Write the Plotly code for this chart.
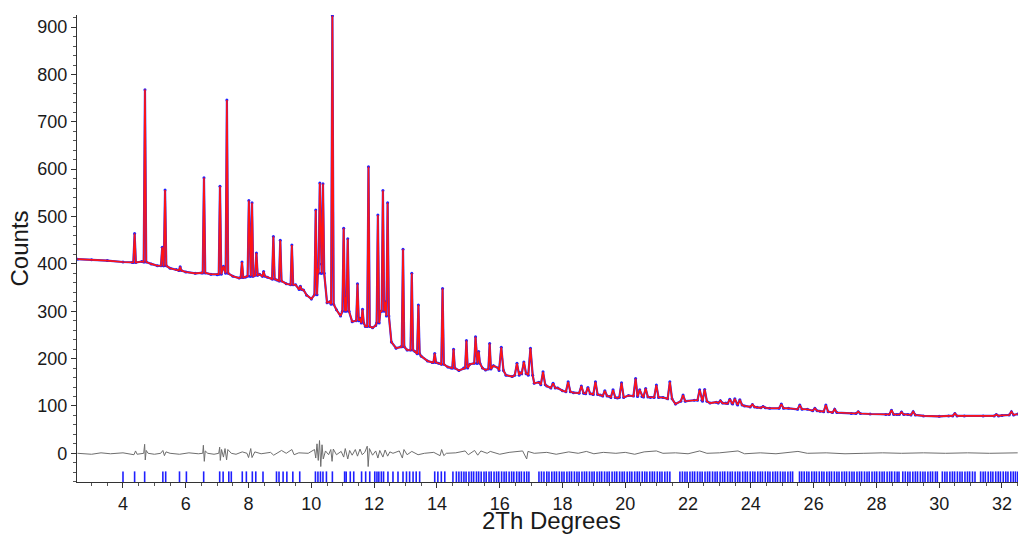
import plotly.graph_objects as go

# ---------------- data ----------------
# background knots (2Theta, counts)
bg_x = [2.55, 3.0, 3.5, 4.0, 4.3, 4.6, 4.9, 5.1, 5.5, 5.7, 6.0, 6.3, 6.5, 6.8, 7.0, 7.2,
        7.5, 7.7, 7.9, 8.35, 8.6, 8.9, 9.2, 9.5, 9.75, 9.85, 10.0, 10.21, 10.32, 10.5,
        10.58, 10.8, 10.93, 11.1, 11.3, 11.55, 11.72, 11.95, 12.05, 12.2, 12.36, 12.55,
        12.7, 12.85, 13.05, 13.3, 13.5, 13.7, 13.85, 14.05, 14.35, 14.45, 14.7, 14.85,
        15.05, 15.28, 15.45, 15.55, 15.8, 15.95, 16.2, 16.4, 16.65, 16.88, 17.1, 17.25,
        17.5, 17.85, 18.0, 18.35, 18.7, 18.95, 19.2, 19.5, 19.75, 20.1, 20.55, 20.8,
        21.2, 21.6, 21.9, 22.2, 22.7, 22.9, 23.2, 23.8, 24.2, 24.6, 25.2, 25.8, 26.2,
        26.7, 27.2, 27.8, 28.3, 28.65, 29.0, 29.5, 30.0, 30.3, 30.8, 31.4, 32.0, 32.5]
bg_y = [410, 409, 407, 404, 403, 405, 400, 396, 391, 388, 383, 380, 381, 378, 377, 395,
        374, 370, 372, 378, 372, 366, 358, 356, 345, 334, 326, 390, 400, 318,
        320, 303, 290, 330, 278, 285, 268, 265, 270, 300, 320, 235,
        222, 225, 218, 215, 205, 195, 192, 190, 182, 180, 175, 180,
        188, 205, 180, 176, 185, 180, 165, 162, 170, 168, 148, 150,
        142, 138, 132, 128, 127, 125, 123, 120, 117, 122, 120, 118,
        118, 104, 112, 112, 106, 108, 106, 100, 97, 95, 95, 93, 89,
        86, 84, 83, 82, 82, 82, 79, 78, 79, 79, 79, 80, 83]

# peaks: position, top, foot level
pk_x = [4.37, 4.70, 5.25, 5.34, 5.82, 6.58, 7.09, 7.31, 7.79, 8.01, 8.11, 8.25, 8.48,
        8.79, 9.01, 9.38, 9.65, 10.14, 10.27, 10.37, 10.67, 11.03, 11.16, 11.47, 11.63,
        11.82, 12.12, 12.28, 12.43, 12.92, 13.20, 13.41, 13.93, 14.18, 14.53, 14.94,
        15.23, 15.33, 15.68, 16.05, 16.55, 16.77, 16.98, 17.38, 17.70, 18.18, 18.60,
        18.81, 19.05, 19.35, 19.61, 19.88, 20.33, 20.46, 20.65, 20.99, 21.42, 21.84,
        22.37, 22.53, 23.03, 23.33, 23.49, 23.65, 24.05, 24.39, 24.97, 25.56, 26.04,
        26.39, 26.67, 27.42, 28.48, 28.80, 29.17, 30.50, 31.82, 32.30]
pk_top = [464, 768, 435, 556, 394, 582, 564, 746, 404, 534, 529, 423, 384,
          458, 450, 440, 353, 514, 571, 569, 924, 475, 453, 358, 304,
          605, 503, 555, 529, 431, 380, 313, 211, 348, 220, 238,
          246, 215, 232, 224, 190, 193, 222, 172, 148, 151, 142,
          139, 151, 132, 134, 149, 158, 134, 137, 144, 151, 123,
          134, 135, 111, 114, 115, 113, 103, 99, 104, 102, 95,
          102, 93, 88, 91, 87, 88, 84, 82, 88]
pk_base = [403, 404, 396, 396, 386, 381, 378, 380, 371, 374, 374, 376, 374,
           368, 364, 356, 346, 335, 380, 380, 315, 300, 300, 280, 275,
           268, 275, 300, 290, 225, 218, 210, 192, 188, 180, 180,
           190, 190, 178, 175, 165, 168, 165, 145, 138, 130, 127,
           126, 124, 121, 118, 118, 121, 120, 119, 118, 115, 110,
           112, 110, 106, 105, 104, 102, 98, 96, 95, 93, 90,
           88, 86, 84, 82, 82, 81, 79, 79, 81]

# difference curve (obs - calc)
diff_x = [2.55, 3.0, 3.3, 3.6, 4.0, 4.35, 4.4, 4.45, 4.66, 4.69, 4.71, 4.74, 4.8, 5.0, 5.2,
          5.27, 5.32, 5.37, 5.5, 5.8, 6.1, 6.4, 6.54, 6.56, 6.59, 6.62, 6.7, 6.9, 7.05,
          7.08, 7.1, 7.14, 7.2, 7.25, 7.3, 7.34, 7.45, 7.6, 7.8, 7.95, 8.0, 8.07, 8.11,
          8.2, 8.4, 8.7, 8.8, 8.9, 9.05, 9.2, 9.38, 9.45, 9.6, 9.9, 10.1, 10.14, 10.18,
          10.22, 10.26, 10.3, 10.34, 10.38, 10.45, 10.55, 10.62, 10.66, 10.7, 10.8, 10.95,
          11.03, 11.08, 11.16, 11.22, 11.3, 11.4, 11.47, 11.55, 11.62, 11.7, 11.78, 11.81,
          11.85, 11.95, 12.05, 12.12, 12.18, 12.28, 12.35, 12.43, 12.5, 12.6, 12.8, 12.9,
          12.95, 13.05, 13.2, 13.4, 13.6, 13.9, 14.1, 14.15, 14.22, 14.3, 14.6, 14.9, 15.0,
          15.2, 15.3, 15.4, 15.6, 15.7, 16.0, 16.3, 16.73, 16.8, 16.86, 16.9, 17.1, 17.5,
          17.8, 18.2, 18.5, 18.76, 19.0, 19.3, 19.7, 20.0, 20.3, 20.6, 20.99, 21.2, 21.6,
          22.0, 22.37, 22.6, 23.0, 23.59, 23.8, 24.3, 24.8, 25.5, 25.8, 26.4, 27.0, 27.6,
          28.2, 28.8, 29.5, 30.2, 30.9, 31.6, 32.5]
diff_y = [0, -2, 1, -1, 1, -3, 5, -2, 0, 19, -14, 6, 0, -2, 0,
          6, -5, 3, 0, -2, 1, -1, 0, 17, -17, 5, 0, -2, 0,
          13, -15, 8, -8, 10, -14, 8, 0, -2, 3, 0, -9, 10, -9,
          3, -1, 2, -4, 0, 6, 0, 8, -3, 1, 0, 8, -10, 20,
          -15, 27, -28, 18, -12, 5, -3, 8, -17, 9, -3, 4,
          -8, 10, -12, 6, -4, 8, -6, 9, -3, 2, 15, -28,
          10, -4, 5, -10, 6, -8, 7, -6, 3, 0, 5, -10,
          8, -3, 4, -3, 0, 2, -5, 8, -5, 0, 1, 5, -3,
          6, -4, 5, 0, 4, -2, 2, 5, -3, -12, 4, 0, 2,
          -2, 3, 0, 4, -1, 2, 0, 2, -2, 3, 5, 0, 1,
          -1, 5, 0, 1, 5, -1, 1, -1, 4, 0, 1, -1, 0,
          1, 0, 1, 0, 1, 0, 1]

# reflection (hkl) tick positions
hkl_x = [4.00, 4.37, 4.69, 5.27, 5.36, 5.80, 6.02, 6.57, 7.08, 7.19, 7.37, 7.45, 7.80, 7.93,
         8.12, 8.23, 8.46, 8.89, 8.97, 9.10, 9.22, 9.41, 9.63, 10.13, 10.21, 10.29, 10.37,
         10.48, 10.67, 11.06, 11.11, 11.24, 11.35, 11.60, 11.73, 11.86, 12.02, 12.09, 12.15,
         12.23, 12.30, 12.44, 12.60, 12.76, 12.92, 13.03, 13.13, 13.24, 13.34, 13.45, 13.93,
         14.03, 14.14, 14.25, 14.51, 14.62,
         14.70, 14.78, 14.86, 14.93, 15.02, 15.10, 15.17, 15.26, 15.33, 15.41, 15.50, 15.57,
         15.66, 15.73, 15.82, 15.90, 15.97, 16.06, 16.14, 16.21, 16.30, 16.38, 16.45, 16.54,
         16.62, 16.69, 16.78, 16.86, 16.93,
         17.25, 17.33, 17.41, 17.50, 17.57, 17.66, 17.74, 17.81, 17.90, 17.98, 18.05, 18.14,
         18.22, 18.29, 18.38, 18.46, 18.53, 18.62, 18.70, 18.77, 18.86, 18.94, 19.01, 19.10,
         19.18, 19.25, 19.34, 19.42, 19.49, 19.58, 19.66, 19.73, 19.82, 19.90, 19.97, 20.06,
         20.14, 20.21, 20.30, 20.38, 20.45, 20.54, 20.62, 20.69, 20.78, 20.86, 20.93, 21.02,
         21.10, 21.17, 21.26, 21.34, 21.42,
         21.74, 21.82, 21.90, 21.97, 22.06, 22.14, 22.21, 22.30, 22.38, 22.45, 22.54, 22.62,
         22.69, 22.78, 22.86, 22.93, 23.02, 23.10, 23.17, 23.26, 23.34, 23.41, 23.50, 23.58,
         23.65, 23.74, 23.82, 23.89, 23.98, 24.06, 24.13, 24.22, 24.30, 24.37, 24.46, 24.54,
         24.61, 24.70, 24.78, 24.85, 24.94, 25.02, 25.09, 25.18, 25.26, 25.33,
         25.55, 25.62, 25.70, 25.78, 25.85, 25.94, 26.02, 26.09, 26.18, 26.26, 26.33, 26.42,
         26.50, 26.57, 26.66, 26.74, 26.81, 26.90, 26.98, 27.05, 27.14, 27.22, 27.29, 27.38,
         27.46, 27.53, 27.62, 27.70, 27.77, 27.86, 27.94, 28.01, 28.10, 28.18, 28.25, 28.34,
         28.42, 28.49, 28.58, 28.66, 28.72,
         28.84, 28.92, 29.00, 29.07, 29.16, 29.24, 29.31, 29.40, 29.48, 29.55, 29.64, 29.72,
         29.79, 29.88, 29.94,
         30.10, 30.18, 30.25, 30.34, 30.42, 30.49, 30.58, 30.66, 30.73, 30.82, 30.90, 30.97,
         31.06, 31.14,
         31.32, 31.40, 31.47, 31.56, 31.64, 31.71, 31.80, 31.88, 31.95, 32.04, 32.12, 32.19,
         32.28, 32.36, 32.43, 32.50]
hkl_level = -50

y_ticks = [0, 100, 200, 300, 400, 500, 600, 700, 800, 900]
x_ticks = [4, 6, 8, 10, 12, 14, 16, 18, 20, 22, 24, 26, 28, 30, 32]

# ---------------- build profile vertices ----------------
def half_width(x):
    return 0.04 if x < 16 else 0.07

verts = []
for x, y in zip(bg_x, bg_y):
    if all(abs(x - p) > half_width(p) + 0.005 for p in pk_x):
        verts.append((x, y))
for x, t, b in zip(pk_x, pk_top, pk_base):
    w = half_width(x)
    verts += [(x - w, b), (x, t), (x + w, b)]
verts.sort()
prof_x = [v[0] for v in verts]
prof_y = [v[1] for v in verts]

# ---------------- figure ----------------
fig = go.Figure()
fig.add_trace(go.Scatter(x=diff_x, y=diff_y, mode="lines",
                         line=dict(color="#6e6e6e", width=1), hoverinfo="skip"))
fig.add_trace(go.Scatter(x=hkl_x, y=[hkl_level] * len(hkl_x), mode="markers",
                         marker=dict(symbol="line-ns", size=8, color="#1f1fff",
                                     line=dict(color="#1f1fff", width=1.6)),
                         hoverinfo="skip"))
fig.add_trace(go.Scatter(x=prof_x, y=prof_y, mode="lines+markers",
                         line=dict(color="#2a2aff", width=2.2),
                         marker=dict(color="#2020ff", size=3), name="Obs"))
fig.add_trace(go.Scatter(x=prof_x, y=prof_y, mode="lines",
                         line=dict(color="#ff1414", width=1.6), name="Calc"))

font_family = "Liberation Sans, Arial, sans-serif"
fig.update_layout(
    width=1018, height=534,
    margin=dict(l=77, r=0, t=15, b=52),
    paper_bgcolor="white", plot_bgcolor="white",
    showlegend=False,
    font=dict(family=font_family, color="#1a1a1a"),
    xaxis=dict(range=[2.535, 32.51], tickmode="array", tickvals=x_ticks,
               ticks="outside", ticklen=5, tickwidth=1, tickcolor="#333",
               showline=True, linecolor="#333", linewidth=1.3,
               showgrid=False, zeroline=False,
               tickfont=dict(size=18, color="#1a1a1a"),
               minor=dict(dtick=0.5, tick0=0, ticks="outside", ticklen=3,
                          tickcolor="#555", showgrid=False)),
    yaxis=dict(range=[-60.6, 925.6], tickmode="array", tickvals=y_ticks,
               ticks="outside", ticklen=5, tickwidth=1, tickcolor="#333",
               showline=True, linecolor="#333", linewidth=1.3,
               showgrid=False, zeroline=False,
               tickfont=dict(size=18, color="#1a1a1a"),
               minor=dict(dtick=20, tick0=0, ticks="outside", ticklen=3,
                          tickcolor="#555", showgrid=False)),
    annotations=[
        dict(text="Counts", xref="paper", yref="paper", x=-0.0606, y=0.5,
             xanchor="center", yanchor="middle", textangle=-90, showarrow=False,
             font=dict(size=24, family=font_family, color="#1a1a1a")),
        dict(text="2Th Degrees", xref="paper", yref="paper", x=0.5045, y=-0.0835,
             xanchor="center", yanchor="middle", showarrow=False,
             font=dict(size=24, family=font_family, color="#1a1a1a")),
    ],
)

fig.write_html("out.html", config={"displayModeBar": False},
               post_script="document.body.style.margin='0';document.body.style.overflow='hidden';")
